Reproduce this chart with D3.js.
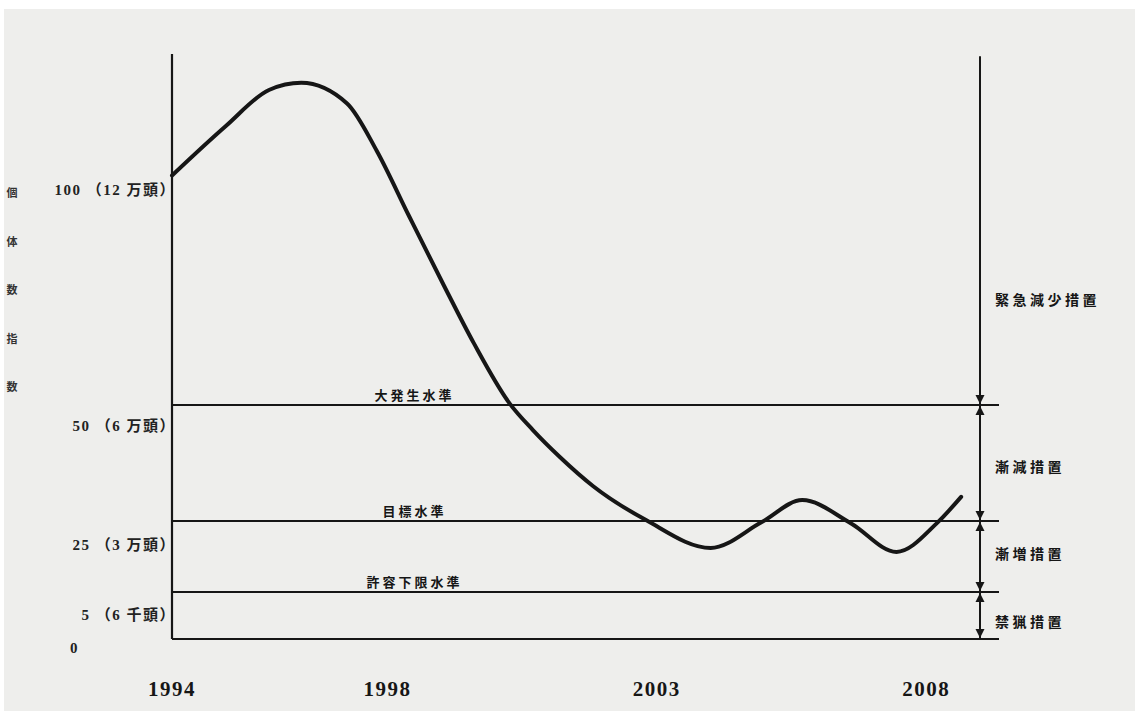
<!DOCTYPE html>
<html><head><meta charset="utf-8">
<script src="https://cdn.jsdelivr.net/npm/d3@7"></script>
<style>
html,body{margin:0;padding:0;background:#fff;}
svg{display:block;}
</style></head>
<body>
<svg id="chart" width="1135" height="711"></svg>
<script>
// ---- data ----
const years = [1994, 1995, 1995.8, 1996.4, 1997.25, 1997.8, 1998.4, 1999.05, 1999.6, 2000.27, 2000.7, 2001.2, 2001.82, 2002.8, 2004, 2004.95, 2005.7, 2006.6, 2007.45, 2008.2, 2008.65];
const values = [101, 112, 120, 121.6, 117, 106.5, 92, 76.5, 63.8, 50.3, 44.6, 38.8, 32.5, 25.2, 17.4, 24.7, 29.5, 24.4, 16.3, 24.4, 30.2];
const yearTicks = [1994, 1998, 2003, 2008];
const yTickValues = [100, 50, 25, 5, 0];
const yTickLabels = ["100 （12 万頭）", "50 （6 万頭）", "25 （3 万頭）", "5 （6 千頭）", "0"];
const levelValues = [50, 25, 5];
const levelNames = ["大発生水準", "目標水準", "許容下限水準"];
const measureRanges = [[50, 100], [25, 50], [5, 25], [0, 5]];
const measureNames = ["緊急減少措置", "漸減措置", "漸増措置", "禁猟措置"];
const axisTitle = ["個", "体", "数", "指", "数"];

// ---- scales ----
const x = d3.scaleLinear().domain([1994, 2009]).range([172, 980]);
const y = d3.scaleLinear().domain([0, 5, 25, 50, 100, 128]).range([639, 592, 521, 405, 180, 54]);
const yLabel = d3.scaleLinear().domain([0, 5, 25, 50, 100]).range([653, 620, 550, 431, 195]);

const svg = d3.select("#chart");
const ink = "#161616";
const cjk = "'Noto Sans CJK JP','Noto Sans CJK SC',sans-serif";
const serif = "'Liberation Serif','DejaVu Serif','Noto Sans CJK JP',serif";

// paper
svg.append("rect").attr("width", 1135).attr("height", 711).attr("fill", "#ffffff");
svg.append("rect").attr("x", 4).attr("y", 9).attr("width", 1131).attr("height", 702).attr("fill", "#eeeeec");

const xRight = x(2009);
const xLineEnd = xRight + 19;

// left axis
svg.append("line").attr("x1", x(1994)).attr("x2", x(1994)).attr("y1", y(128)).attr("y2", y(0))
  .attr("stroke", ink).attr("stroke-width", 2.2);
// bottom line
svg.append("line").attr("x1", x(1994)).attr("x2", xLineEnd).attr("y1", y(0)).attr("y2", y(0))
  .attr("stroke", ink).attr("stroke-width", 2.2);
// right axis
svg.append("line").attr("x1", xRight).attr("x2", xRight).attr("y1", y(127.5)).attr("y2", y(0))
  .attr("stroke", ink).attr("stroke-width", 2);

// level lines
svg.selectAll(".lvl").data(levelValues).join("line")
  .attr("x1", x(1994)).attr("x2", xLineEnd)
  .attr("y1", d => y(d)).attr("y2", d => y(d))
  .attr("stroke", ink).attr("stroke-width", 2);

svg.selectAll(".lvlt").data(levelNames).join("text")
  .attr("x", x(1998.5)).attr("y", (d, i) => y(levelValues[i]) - 5)
  .attr("text-anchor", "middle")
  .attr("font-family", cjk).attr("font-weight", "bold").attr("font-size", 13)
  .attr("letter-spacing", 3).attr("fill", ink).text(d => d);

// arrows on right axis
const boundaries = [50, 25, 5, 0];
boundaries.forEach(v => {
  const yy = y(v);
  svg.append("path").attr("d", `M${xRight - 4.5},${yy - 10} L${xRight + 4.5},${yy - 10} L${xRight},${yy - 1} Z`).attr("fill", ink);
  if (v > 0) {
    svg.append("path").attr("d", `M${xRight - 4.5},${yy + 10} L${xRight + 4.5},${yy + 10} L${xRight},${yy + 1} Z`).attr("fill", ink);
  }
});

// measure labels
const measureDy = [12, 9, 2, 11];
svg.selectAll(".ms").data(measureNames).join("text")
  .attr("x", xRight + 15)
  .attr("y", (d, i) => (y(measureRanges[i][0]) + y(measureRanges[i][1])) / 2 + measureDy[i])
  .attr("font-family", cjk).attr("font-weight", "bold").attr("font-size", 14)
  .attr("letter-spacing", 3.5).attr("fill", ink).text(d => d);

// curve
const pts = years.map((yr, i) => [x(yr), y(values[i])]);
svg.append("path").attr("d", d3.line().curve(d3.curveMonotoneX)(pts))
  .attr("fill", "none").attr("stroke", ink).attr("stroke-width", 4).attr("stroke-linecap", "round");

// y tick labels
svg.selectAll(".yt").data(yTickValues).join("text")
  .attr("x", (d) => d === 0 ? 70 : 176)
  .attr("y", d => yLabel(d))
  .attr("text-anchor", d => d === 0 ? "start" : "end")
  .attr("font-family", serif).attr("font-weight", "bold").attr("font-size", 15)
  .attr("letter-spacing", 1.5).attr("fill", "#222").text((d, i) => yTickLabels[i]);

// x tick labels
svg.selectAll(".xt").data(yearTicks).join("text")
  .attr("x", d => x(d)).attr("y", 696)
  .attr("text-anchor", "middle")
  .attr("font-family", serif).attr("font-weight", "bold").attr("font-size", 21)
  .attr("letter-spacing", 1.5).attr("fill", ink).text(d => d);

// vertical axis title
svg.selectAll(".at").data(axisTitle).join("text")
  .attr("x", 12).attr("y", (d, i) => 197 + i * 48.5)
  .attr("text-anchor", "middle")
  .attr("font-family", cjk).attr("font-weight", "bold").attr("font-size", 11)
  .attr("fill", "#333").text(d => d);
</script>
</body></html>
